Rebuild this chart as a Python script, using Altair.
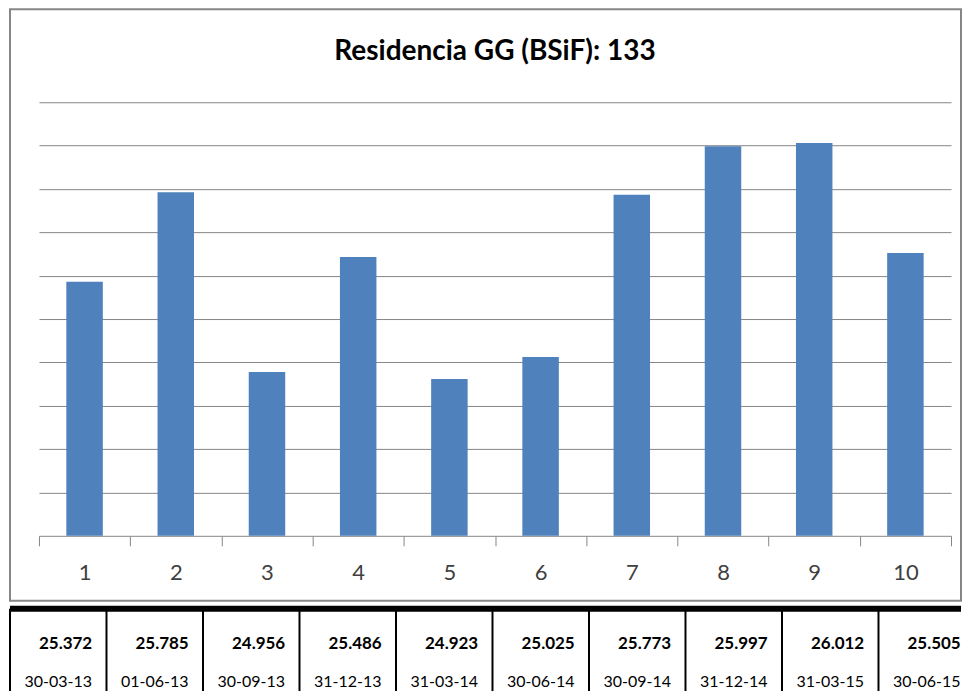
import altair as alt
import pandas as pd

# ---- data ----
categories = ["1", "2", "3", "4", "5", "6", "7", "8", "9", "10"]
values = [25.372, 25.785, 24.956, 25.486, 24.923, 25.025, 25.773, 25.997, 26.012, 25.505]
value_labels = ["25.372", "25.785", "24.956", "25.486", "24.923",
                "25.025", "25.773", "25.997", "26.012", "25.505"]
dates = ["30-03-13", "01-06-13", "30-09-13", "31-12-13", "31-03-14",
         "30-06-14", "30-09-14", "31-12-14", "31-03-15", "30-06-15"]
grid_values = [24.4, 24.6, 24.8, 25.0, 25.2, 25.4, 25.6, 25.8, 26.0, 26.2]
y_base = 24.2
y_top_value = 26.2
title_text = "Residencia GG (BSiF): 133"
title_level = 26.43          # title height, in the value scale
title_anchor_cat = "5"       # title centred at the end of this category
table_rows = ["v", "d"]

bars_df = pd.DataFrame({"cat": categories, "value": values,
                        "base": [y_base] * len(categories)})
title_df = pd.DataFrame({"cat": [title_anchor_cat], "value": [title_level],
                         "label": [title_text]})
table_df = pd.DataFrame({
    "cat": categories + categories,
    "row": ["v"] * len(categories) + ["d"] * len(categories),
    "label": value_labels + dates,
})
cols_df = pd.DataFrame({"cat": categories})
line_df = pd.DataFrame({"row": [table_rows[0]]})

FONT = "Lato"
GRAY = "#868686"
BLUE = "#4F81BD"

# ---- top: bar chart inside a grey box ----
x_scale_top = alt.Scale(range=[29, 942], paddingInner=0, paddingOuter=0)
y_scale_top = alt.Scale(domain=[y_base, y_top_value], range=[527, 93], zero=False, nice=False)

x_top = alt.X(
    "cat:N", sort=categories, scale=x_scale_top,
    axis=alt.Axis(title=None, labelAngle=0, labelFont=FONT, labelFontSize=22,
                  labelColor="#404040", labelPadding=27, labelBaseline="middle",
                  tickBand="extent", tickSize=10, tickColor=GRAY, tickWidth=1,
                  domainColor=GRAY, domainWidth=1, offset=-65, grid=False),
)
y_top = alt.Y(
    "value:Q", scale=y_scale_top,
    axis=alt.Axis(values=grid_values, grid=True, gridColor=GRAY, gridWidth=1,
                  labels=False, ticks=False, domain=False, title=None),
)

bars = alt.Chart(bars_df).mark_bar(
    color=BLUE, width=alt.RelativeBandSize(0.4)
).encode(x=x_top, y=y_top, y2="base:Q")

title = alt.Chart(title_df).mark_text(
    font=FONT, fontSize=28, fontWeight="bold", color="black",
    align="center", baseline="middle"
).encode(
    x=alt.X("cat:N", sort=categories, bandPosition=1),
    y=alt.Y("value:Q"),
    text="label:N",
)

top = alt.layer(bars, title).properties(
    width=952, height=592,
    view=alt.ViewBackground(stroke=GRAY, strokeWidth=2, fill="white"),
)

# ---- bottom: data table ----
x_scale_tab = alt.Scale(range=[0, 966], paddingInner=0, paddingOuter=0)
y_scale_tab = alt.Scale(paddingInner=0, paddingOuter=0)

col_lines = alt.Chart(cols_df).mark_rule(color="black", strokeWidth=2).encode(
    x=alt.X("cat:N", sort=categories, scale=x_scale_tab, bandPosition=0, axis=None)
)
top_line = alt.Chart(line_df).mark_rule(color="black", strokeWidth=6).encode(
    y=alt.Y("row:N", sort=table_rows, scale=y_scale_tab, bandPosition=0, axis=None)
)

values_text = alt.Chart(table_df).transform_filter(alt.datum.row == "v").mark_text(
    font=FONT, fontSize=17, fontWeight="bold", align="right", dx=34,
    baseline="middle", color="black"
).encode(
    x=alt.X("cat:N", sort=categories, scale=x_scale_tab, axis=None),
    y=alt.Y("row:N", sort=table_rows, scale=y_scale_tab, bandPosition=0.84, axis=None),
    text="label:N",
)

dates_text = alt.Chart(table_df).transform_filter(alt.datum.row == "d").mark_text(
    font=FONT, fontSize=16, align="center", baseline="middle", color="black"
).encode(
    x=alt.X("cat:N", sort=categories, scale=x_scale_tab, axis=None),
    y=alt.Y("row:N", sort=table_rows, scale=y_scale_tab, bandPosition=0.73, axis=None),
    text="label:N",
)

table = alt.layer(col_lines, top_line, values_text, dates_text).properties(
    width=952, height=85,
    view=alt.ViewBackground(stroke="transparent"),
)

chart = alt.vconcat(top, table, spacing=3).properties(
    padding={"left": -2, "top": 0, "right": -3, "bottom": 0},
    background="white",
)

chart.save("out.html", embed_options={"renderer": "svg", "actions": False})
